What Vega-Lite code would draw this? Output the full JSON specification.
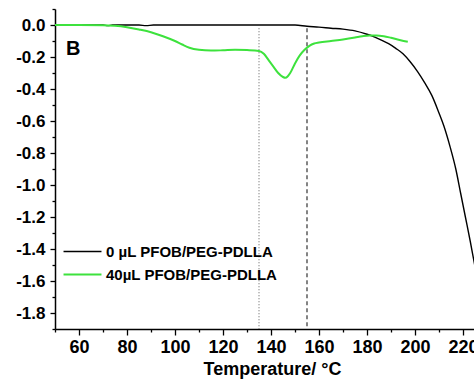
{
  "$schema": "https://vega.github.io/schema/vega-lite/v6.json",
  "width": 420,
  "height": 320,
  "autosize": {"type": "none"},
  "padding": {"left": 55, "top": 9, "right": 0, "bottom": 52},
  "background": "white",
  "config": {
    "view": {"stroke": null},
    "font": "Liberation Sans",
    "axis": {"labelFont": "Liberation Sans", "titleFont": "Liberation Sans", "domainColor": "#000", "tickColor": "#000", "labelColor": "#000", "titleColor": "#000", "grid": false, "domainWidth": 1.5, "tickWidth": 1.3, "labelFontWeight": "bold", "titleFontWeight": "bold"}
  },
  "datasets": {
    "curves": [
      {"t": 50, "v": 0, "s": "0 µL PFOB/PEG-PDLLA"},
      {"t": 70, "v": 0, "s": "0 µL PFOB/PEG-PDLLA"},
      {"t": 72, "v": -0.004, "s": "0 µL PFOB/PEG-PDLLA"},
      {"t": 74, "v": 0, "s": "0 µL PFOB/PEG-PDLLA"},
      {"t": 85, "v": 0, "s": "0 µL PFOB/PEG-PDLLA"},
      {"t": 88, "v": -0.004, "s": "0 µL PFOB/PEG-PDLLA"},
      {"t": 91, "v": 0, "s": "0 µL PFOB/PEG-PDLLA"},
      {"t": 150, "v": 0, "s": "0 µL PFOB/PEG-PDLLA"},
      {"t": 155, "v": -0.008, "s": "0 µL PFOB/PEG-PDLLA"},
      {"t": 160, "v": -0.013, "s": "0 µL PFOB/PEG-PDLLA"},
      {"t": 165, "v": -0.02, "s": "0 µL PFOB/PEG-PDLLA"},
      {"t": 170, "v": -0.026, "s": "0 µL PFOB/PEG-PDLLA"},
      {"t": 175, "v": -0.037, "s": "0 µL PFOB/PEG-PDLLA"},
      {"t": 180, "v": -0.058, "s": "0 µL PFOB/PEG-PDLLA"},
      {"t": 183, "v": -0.074, "s": "0 µL PFOB/PEG-PDLLA"},
      {"t": 186, "v": -0.094, "s": "0 µL PFOB/PEG-PDLLA"},
      {"t": 189, "v": -0.117, "s": "0 µL PFOB/PEG-PDLLA"},
      {"t": 192, "v": -0.146, "s": "0 µL PFOB/PEG-PDLLA"},
      {"t": 195, "v": -0.18, "s": "0 µL PFOB/PEG-PDLLA"},
      {"t": 198, "v": -0.23, "s": "0 µL PFOB/PEG-PDLLA"},
      {"t": 201, "v": -0.29, "s": "0 µL PFOB/PEG-PDLLA"},
      {"t": 204, "v": -0.36, "s": "0 µL PFOB/PEG-PDLLA"},
      {"t": 207, "v": -0.44, "s": "0 µL PFOB/PEG-PDLLA"},
      {"t": 210, "v": -0.55, "s": "0 µL PFOB/PEG-PDLLA"},
      {"t": 212, "v": -0.63, "s": "0 µL PFOB/PEG-PDLLA"},
      {"t": 214.6, "v": -0.76, "s": "0 µL PFOB/PEG-PDLLA"},
      {"t": 217, "v": -0.9, "s": "0 µL PFOB/PEG-PDLLA"},
      {"t": 219, "v": -1.05, "s": "0 µL PFOB/PEG-PDLLA"},
      {"t": 221, "v": -1.2, "s": "0 µL PFOB/PEG-PDLLA"},
      {"t": 223, "v": -1.35, "s": "0 µL PFOB/PEG-PDLLA"},
      {"t": 225, "v": -1.51, "s": "0 µL PFOB/PEG-PDLLA"},
      {"t": 227, "v": -1.66, "s": "0 µL PFOB/PEG-PDLLA"},
      {"t": 50, "v": 0, "s": "40µL PFOB/PEG-PDLLA"},
      {"t": 60, "v": 0, "s": "40µL PFOB/PEG-PDLLA"},
      {"t": 70, "v": -0.001, "s": "40µL PFOB/PEG-PDLLA"},
      {"t": 75, "v": -0.005, "s": "40µL PFOB/PEG-PDLLA"},
      {"t": 80, "v": -0.014, "s": "40µL PFOB/PEG-PDLLA"},
      {"t": 85, "v": -0.028, "s": "40µL PFOB/PEG-PDLLA"},
      {"t": 90, "v": -0.045, "s": "40µL PFOB/PEG-PDLLA"},
      {"t": 95, "v": -0.07, "s": "40µL PFOB/PEG-PDLLA"},
      {"t": 100, "v": -0.1, "s": "40µL PFOB/PEG-PDLLA"},
      {"t": 103, "v": -0.122, "s": "40µL PFOB/PEG-PDLLA"},
      {"t": 106, "v": -0.142, "s": "40µL PFOB/PEG-PDLLA"},
      {"t": 110, "v": -0.155, "s": "40µL PFOB/PEG-PDLLA"},
      {"t": 115, "v": -0.16, "s": "40µL PFOB/PEG-PDLLA"},
      {"t": 120, "v": -0.158, "s": "40µL PFOB/PEG-PDLLA"},
      {"t": 125, "v": -0.155, "s": "40µL PFOB/PEG-PDLLA"},
      {"t": 130, "v": -0.157, "s": "40µL PFOB/PEG-PDLLA"},
      {"t": 135, "v": -0.162, "s": "40µL PFOB/PEG-PDLLA"},
      {"t": 137, "v": -0.18, "s": "40µL PFOB/PEG-PDLLA"},
      {"t": 139, "v": -0.22, "s": "40µL PFOB/PEG-PDLLA"},
      {"t": 141, "v": -0.26, "s": "40µL PFOB/PEG-PDLLA"},
      {"t": 143, "v": -0.3, "s": "40µL PFOB/PEG-PDLLA"},
      {"t": 145, "v": -0.325, "s": "40µL PFOB/PEG-PDLLA"},
      {"t": 146, "v": -0.33, "s": "40µL PFOB/PEG-PDLLA"},
      {"t": 147, "v": -0.32, "s": "40µL PFOB/PEG-PDLLA"},
      {"t": 148, "v": -0.3, "s": "40µL PFOB/PEG-PDLLA"},
      {"t": 150, "v": -0.24, "s": "40µL PFOB/PEG-PDLLA"},
      {"t": 152, "v": -0.19, "s": "40µL PFOB/PEG-PDLLA"},
      {"t": 154, "v": -0.155, "s": "40µL PFOB/PEG-PDLLA"},
      {"t": 156, "v": -0.13, "s": "40µL PFOB/PEG-PDLLA"},
      {"t": 158, "v": -0.116, "s": "40µL PFOB/PEG-PDLLA"},
      {"t": 160, "v": -0.11, "s": "40µL PFOB/PEG-PDLLA"},
      {"t": 165, "v": -0.1, "s": "40µL PFOB/PEG-PDLLA"},
      {"t": 170, "v": -0.09, "s": "40µL PFOB/PEG-PDLLA"},
      {"t": 175, "v": -0.078, "s": "40µL PFOB/PEG-PDLLA"},
      {"t": 178, "v": -0.07, "s": "40µL PFOB/PEG-PDLLA"},
      {"t": 181, "v": -0.065, "s": "40µL PFOB/PEG-PDLLA"},
      {"t": 184, "v": -0.065, "s": "40µL PFOB/PEG-PDLLA"},
      {"t": 187, "v": -0.07, "s": "40µL PFOB/PEG-PDLLA"},
      {"t": 190, "v": -0.08, "s": "40µL PFOB/PEG-PDLLA"},
      {"t": 194, "v": -0.095, "s": "40µL PFOB/PEG-PDLLA"},
      {"t": 197, "v": -0.105, "s": "40µL PFOB/PEG-PDLLA"}
    ],
    "refs": [
      {"t": 135, "top": -0.02, "bottom": -1.9, "kind": "dotted"},
      {"t": 155, "top": -0.02, "bottom": -1.9, "kind": "dashed"}
    ],
    "panel": [
      {"t": 57.6, "v": -0.153, "label": "B"}
    ]
  },
  "resolve": {"axis": {"x": "independent", "y": "independent"}},
  "layer": [
    {
      "data": {"name": "refs"},
      "transform": [{"filter": "datum.kind == 'dotted'"}],
      "mark": {"type": "rule", "color": "#777", "strokeWidth": 1.2, "strokeDash": [1, 2]},
      "encoding": {
        "x": {
          "field": "t", "type": "quantitative",
          "axis": {"orient": "bottom", "title": null, "labels": false, "domain": false, "tickSize": 3,
                   "values": [50, 70, 90, 110, 130, 150, 170, 190, 210]}
        },
        "y": {
          "field": "top", "type": "quantitative",
          "axis": {"orient": "left", "title": null, "labels": false, "domain": false, "tickSize": 3,
                   "values": [-1.9, -1.7, -1.5, -1.3, -1.1, -0.9, -0.7, -0.5, -0.3, -0.1, 0.1]}
        },
        "y2": {"field": "bottom"}
      }
    },
    {
      "data": {"name": "refs"},
      "transform": [{"filter": "datum.kind == 'dashed'"}],
      "mark": {"type": "rule", "color": "#333", "strokeWidth": 1.2, "strokeDash": [4, 3]},
      "encoding": {
        "x": {"field": "t", "type": "quantitative", "axis": null},
        "y": {"field": "top", "type": "quantitative", "axis": null},
        "y2": {"field": "bottom"}
      }
    },
    {
      "data": {"name": "curves"},
      "mark": {"type": "line", "clip": true, "interpolate": "monotone"},
      "encoding": {
        "x": {
          "field": "t", "type": "quantitative",
          "scale": {"domain": [50, 225], "nice": false, "zero": false},
          "axis": {
            "orient": "bottom",
            "title": "Temperature/ °C",
            "titleFontSize": 18,
            "titlePadding": 4,
            "titleX": 217,
            "values": [60, 80, 100, 120, 140, 160, 180, 200, 220],
            "labelFontSize": 18,
            "labelPadding": 3,
            "labelFlush": false,
            "labelOverlap": false,
            "tickSize": 6
          }
        },
        "y": {
          "field": "v", "type": "quantitative",
          "scale": {"domain": [-1.9, 0.1], "nice": false, "zero": false},
          "axis": {
            "orient": "left",
            "title": null,
            "values": [-1.8, -1.6, -1.4, -1.2, -1.0, -0.8, -0.6, -0.4, -0.2, 0],
            "labelExpr": "replace(format(datum.value, '.1f'), '\u2212', '-')",
            "labelFontSize": 17,
            "labelPadding": 5,
            "labelFlush": false,
            "labelOverlap": false,
            "tickSize": 5
          }
        },
        "color": {
          "field": "s", "type": "nominal",
          "scale": {"domain": ["0 µL PFOB/PEG-PDLLA", "40µL PFOB/PEG-PDLLA"], "range": ["#000000", "#3de23d"]},
          "legend": {
            "title": null,
            "orient": "none",
            "legendX": 20,
            "legendY": 235,
            "symbolType": "M-3,0H3",
            "symbolSize": 160,
            "symbolStrokeWidth": 2,
            "labelFontSize": 15,
            "labelFontWeight": "bold",
            "labelColor": "#000",
            "labelLimit": 400,
            "labelOffset": 16,
            "rowPadding": 7
          }
        },
        "strokeWidth": {
          "field": "s", "type": "nominal",
          "scale": {"domain": ["0 µL PFOB/PEG-PDLLA", "40µL PFOB/PEG-PDLLA"], "range": [1.4, 2]},
          "legend": null
        }
      }
    },
    {
      "data": {"name": "panel"},
      "mark": {"type": "text", "fontSize": 20, "fontWeight": "bold", "align": "center", "baseline": "middle", "color": "#000"},
      "encoding": {
        "x": {"field": "t", "type": "quantitative", "axis": null},
        "y": {"field": "v", "type": "quantitative", "axis": null},
        "text": {"field": "label"}
      }
    }
  ]
}
